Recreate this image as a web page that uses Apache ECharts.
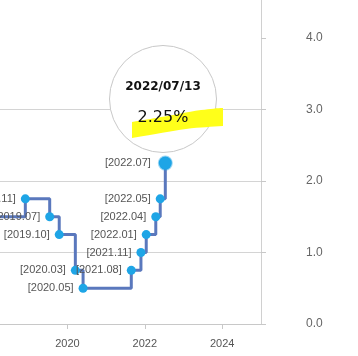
<!DOCTYPE html>
<html>
<head>
<meta charset="utf-8">
<script src="https://cdn.jsdelivr.net/npm/echarts@6/dist/echarts.min.js"></script>
<style>
html,body{margin:0;padding:0;background:#fff;}
#chart{width:358px;height:356px;}
</style>
</head>
<body>
<div id="chart"></div>
<script>
var dates = ['2017-11-30','2018-11-30','2019-07-18','2019-10-16','2020-03-16','2020-05-28','2021-08-26','2021-11-25','2022-01-14','2022-04-14','2022-05-26','2022-07-13'];
var rates = [1.50, 1.75, 1.50, 1.25, 0.75, 0.50, 0.75, 1.00, 1.25, 1.50, 1.75, 2.25];
var xTickLabels = ['2020-01-01','2022-01-01','2024-01-01'];
var yTickLabels = [0, 1, 2, 3, 4];

function ts(s) { return echarts.time.parse(s).getTime(); }
function pad(n) { return (n < 10 ? '0' : '') + n; }

var chart = echarts.init(document.getElementById('chart'));
var lastIdx = dates.length - 1;
var seriesData = dates.map(function (d, i) {
  var item = { value: [ts(d), rates[i]] };
  if (i === lastIdx) {
    item.symbolSize = 13;
    item.itemStyle = { color: '#1ea5e6', borderColor: 'rgba(30,165,230,0.45)', borderWidth: 2 };
    item.label = { distance: 7 };
  }
  return item;
});
var xTicks = xTickLabels.map(ts);

var scribble = '<svg width="96" height="34" viewBox="0 0 96 34" style="position:absolute;left:21px;top:61px;overflow:visible">' +
  '<path d="M1,15 C12,13 20,12 30,10 C45,8 55,5 70,3 C80,2 86,1 92,1 L92,19 C80,20 70,20 55,22 C40,24 25,27 1,31 Z" fill="#ffff1a"/></svg>';

chart.setOption({
  animation: false,
  grid: { left: 0, right: 97, top: 0, bottom: 32 },
  tooltip: {
    trigger: 'item',
    triggerOn: 'none',
    alwaysShowContent: true,
    transitionDuration: 0,
    padding: 0,
    backgroundColor: '#fff',
    borderColor: '#c8c8c8',
    borderWidth: 1,
    extraCssText: 'border-radius:50%;box-shadow:none;overflow:visible;',
    position: function (point, params, dom, rect, size) {
      return [point[0] - size.contentSize[0] / 2 - 2, point[1] - size.contentSize[1] - 10];
    },
    formatter: function (p) {
      var dt = new Date(p.value[0]);
      var d = dt.getFullYear() + '/' + pad(dt.getMonth() + 1) + '/' + pad(dt.getDate());
      return '<div style="position:relative;width:106px;height:106px;">' + scribble +
        '<div style="position:absolute;left:0;width:106px;top:33px;text-align:center;font:bold 12px \'DejaVu Sans\';color:#111;">' + d + '</div>' +
        '<div style="position:absolute;left:0;width:106px;top:61px;text-align:center;font:16px \'DejaVu Sans\';color:#111;">' + p.value[1].toFixed(2) + '%</div>' +
        '</div>';
    }
  },
  xAxis: {
    type: 'value',
    min: ts('2018-04-05'),
    max: ts('2025-01-01'),
    axisLine: { show: true, lineStyle: { color: '#c8c8c8', width: 1 } },
    axisTick: { show: true, length: 5, lineStyle: { color: '#c8c8c8' }, customValues: xTicks },
    axisLabel: {
      customValues: xTicks,
      margin: 14,
      color: '#555',
      fontSize: 11,
      fontFamily: 'Liberation Sans',
      formatter: function (v) { return String(new Date(v).getFullYear()); }
    },
    splitLine: { show: false }
  },
  yAxis: {
    type: 'value',
    position: 'right',
    min: 0,
    max: 4.53,
    interval: 1,
    axisLine: { show: true, lineStyle: { color: '#d0d0d0', width: 1 } },
    axisTick: { show: true, length: 5, lineStyle: { color: '#c8c8c8' }, customValues: yTickLabels },
    axisLabel: {
      customValues: yTickLabels,
      margin: 45,
      color: '#666',
      fontSize: 12,
      fontFamily: 'Liberation Sans',
      formatter: function (v) { return v.toFixed(1); }
    },
    splitLine: { show: true, showMaxLine: false, lineStyle: { color: '#d4d4d4', width: 1 } }
  },
  series: [{
    type: 'line',
    step: 'end',
    data: seriesData,
    symbol: 'circle',
    symbolSize: 9,
    lineStyle: { color: '#5a78bd', width: 3 },
    itemStyle: { color: '#1ea5e6' },
    label: {
      show: true,
      position: 'left',
      distance: 5,
      color: '#555',
      fontSize: 11,
      fontFamily: 'Liberation Sans',
      formatter: function (p) {
        var dt = new Date(p.value[0]);
        return '[' + dt.getFullYear() + '.' + pad(dt.getMonth() + 1) + ']';
      }
    }
  }]
});
chart.dispatchAction({ type: 'showTip', seriesIndex: 0, dataIndex: lastIdx });
</script>
</body>
</html>
